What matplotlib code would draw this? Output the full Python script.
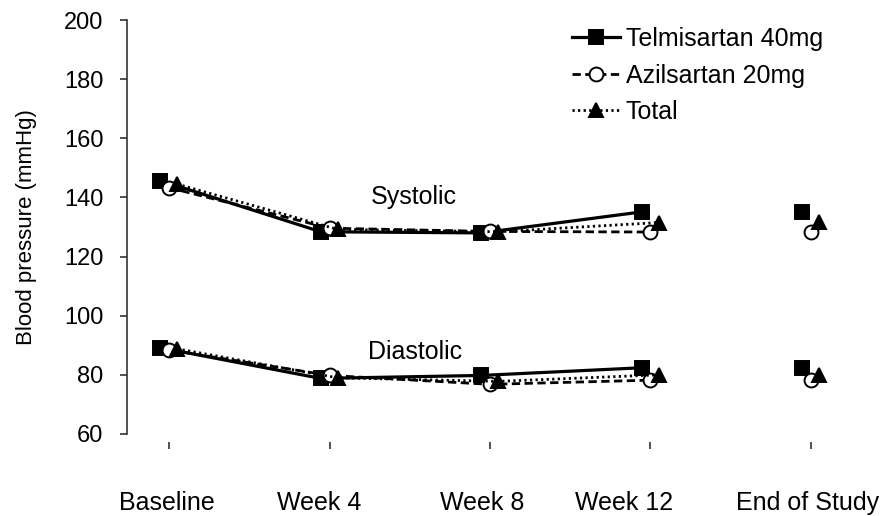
import numpy as np
import matplotlib
matplotlib.use('Agg')
import matplotlib.pyplot as plt
import matplotlib.transforms as mtransforms

plt.rcParams['font.family'] = ['Liberation Sans', 'DejaVu Sans']

categories = ['Baseline', 'Week 4', 'Week 8', 'Week 12', 'End of Study']

# systolic / diastolic means (mmHg)
telmi_sys = [145.7, 128.4, 128.0, 135.1, 135.1]
azil_sys = [143.3, 129.6, 128.5, 128.3, 128.3]
total_sys = [144.5, 129.2, 128.4, 131.5, 131.6]

telmi_dia = [89.2, 78.8, 79.8, 82.4, 82.3]
azil_dia = [88.4, 79.8, 76.8, 78.2, 78.2]
total_dia = [88.8, 79.0, 77.8, 80.0, 80.0]

fig = plt.figure(figsize=(8.84, 5.16), dpi=100)
ax = fig.add_axes([127/884, 82/516, 1 - 127/884, 414/516])

x = np.arange(len(categories))

series = [
    ('Telmisartan 40mg', telmi_sys, telmi_dia, -0.055, '-', 's', 'black', 2.3),
    ('Azilsartan 20mg', azil_sys, azil_dia, 0.0, (0, (3, 1.6)), 'o', 'white', 2.0),
    ('Total', total_sys, total_dia, 0.05, (0, (0.8, 1.2)), '^', 'black', 2.0),
]

handles = []
for name, sys_v, dia_v, off, ls, mk, fc, lw in series:
    xs = x + off
    for vals in (sys_v, dia_v):
        # connected through Week 12, End of Study drawn on its own
        h, = ax.plot(xs[:4], vals[:4], linestyle=ls, color='black', lw=lw,
                     marker=mk, markersize=10, markerfacecolor=fc,
                     markeredgecolor='black', markeredgewidth=1.4)
        ax.plot(xs[4:], vals[4:], linestyle='none', marker=mk, markersize=10,
                markerfacecolor=fc, markeredgecolor='black', markeredgewidth=1.4)
    handles.append(h)

ax.text(1.527, 140.1, 'Systolic', fontsize=18, ha='center', va='center')
ax.text(1.535, 87.7, 'Diastolic', fontsize=18, ha='center', va='center')

ax.set_xlim(-0.262, 4.455)
ax.set_ylim(60, 200)
ax.set_yticks(np.arange(60, 201, 20))
ax.set_xticks(x)
ax.set_xticklabels(categories)

for s in ['top', 'right']:
    ax.spines[s].set_visible(False)
ax.spines['bottom'].set_position(('outward', 6))
ax.spines['bottom'].set_color('none')
ax.spines['left'].set_color('#333333')
ax.spines['left'].set_linewidth(1.2)

ax.tick_params(axis='y', direction='out', length=5, width=1.2, color='#333333',
               labelsize=17, pad=12)
ax.tick_params(axis='x', direction='out', length=5, width=1.2, color='#333333',
               labelsize=18, pad=30)

# the original labels sit a little left of their ticks
label_shift = [-2, -10, -8, -26, -3]
for lab, dx in zip(ax.get_xticklabels(), label_shift):
    lab.set_transform(lab.get_transform() +
                      mtransforms.ScaledTranslation(dx/100, 0, fig.dpi_scale_trans))

ax.set_ylabel('Blood pressure (mmHg)', fontsize=16, labelpad=19)

ax.legend(handles, [s[0] for s in series], loc='upper left',
          bbox_to_anchor=(572/884, 1 - 27/516), bbox_transform=fig.transFigure,
          frameon=False, fontsize=18, handlelength=1.9, handletextpad=0.25,
          borderpad=0, borderaxespad=0, labelspacing=0.5)

fig.savefig('out.png', dpi=100)
